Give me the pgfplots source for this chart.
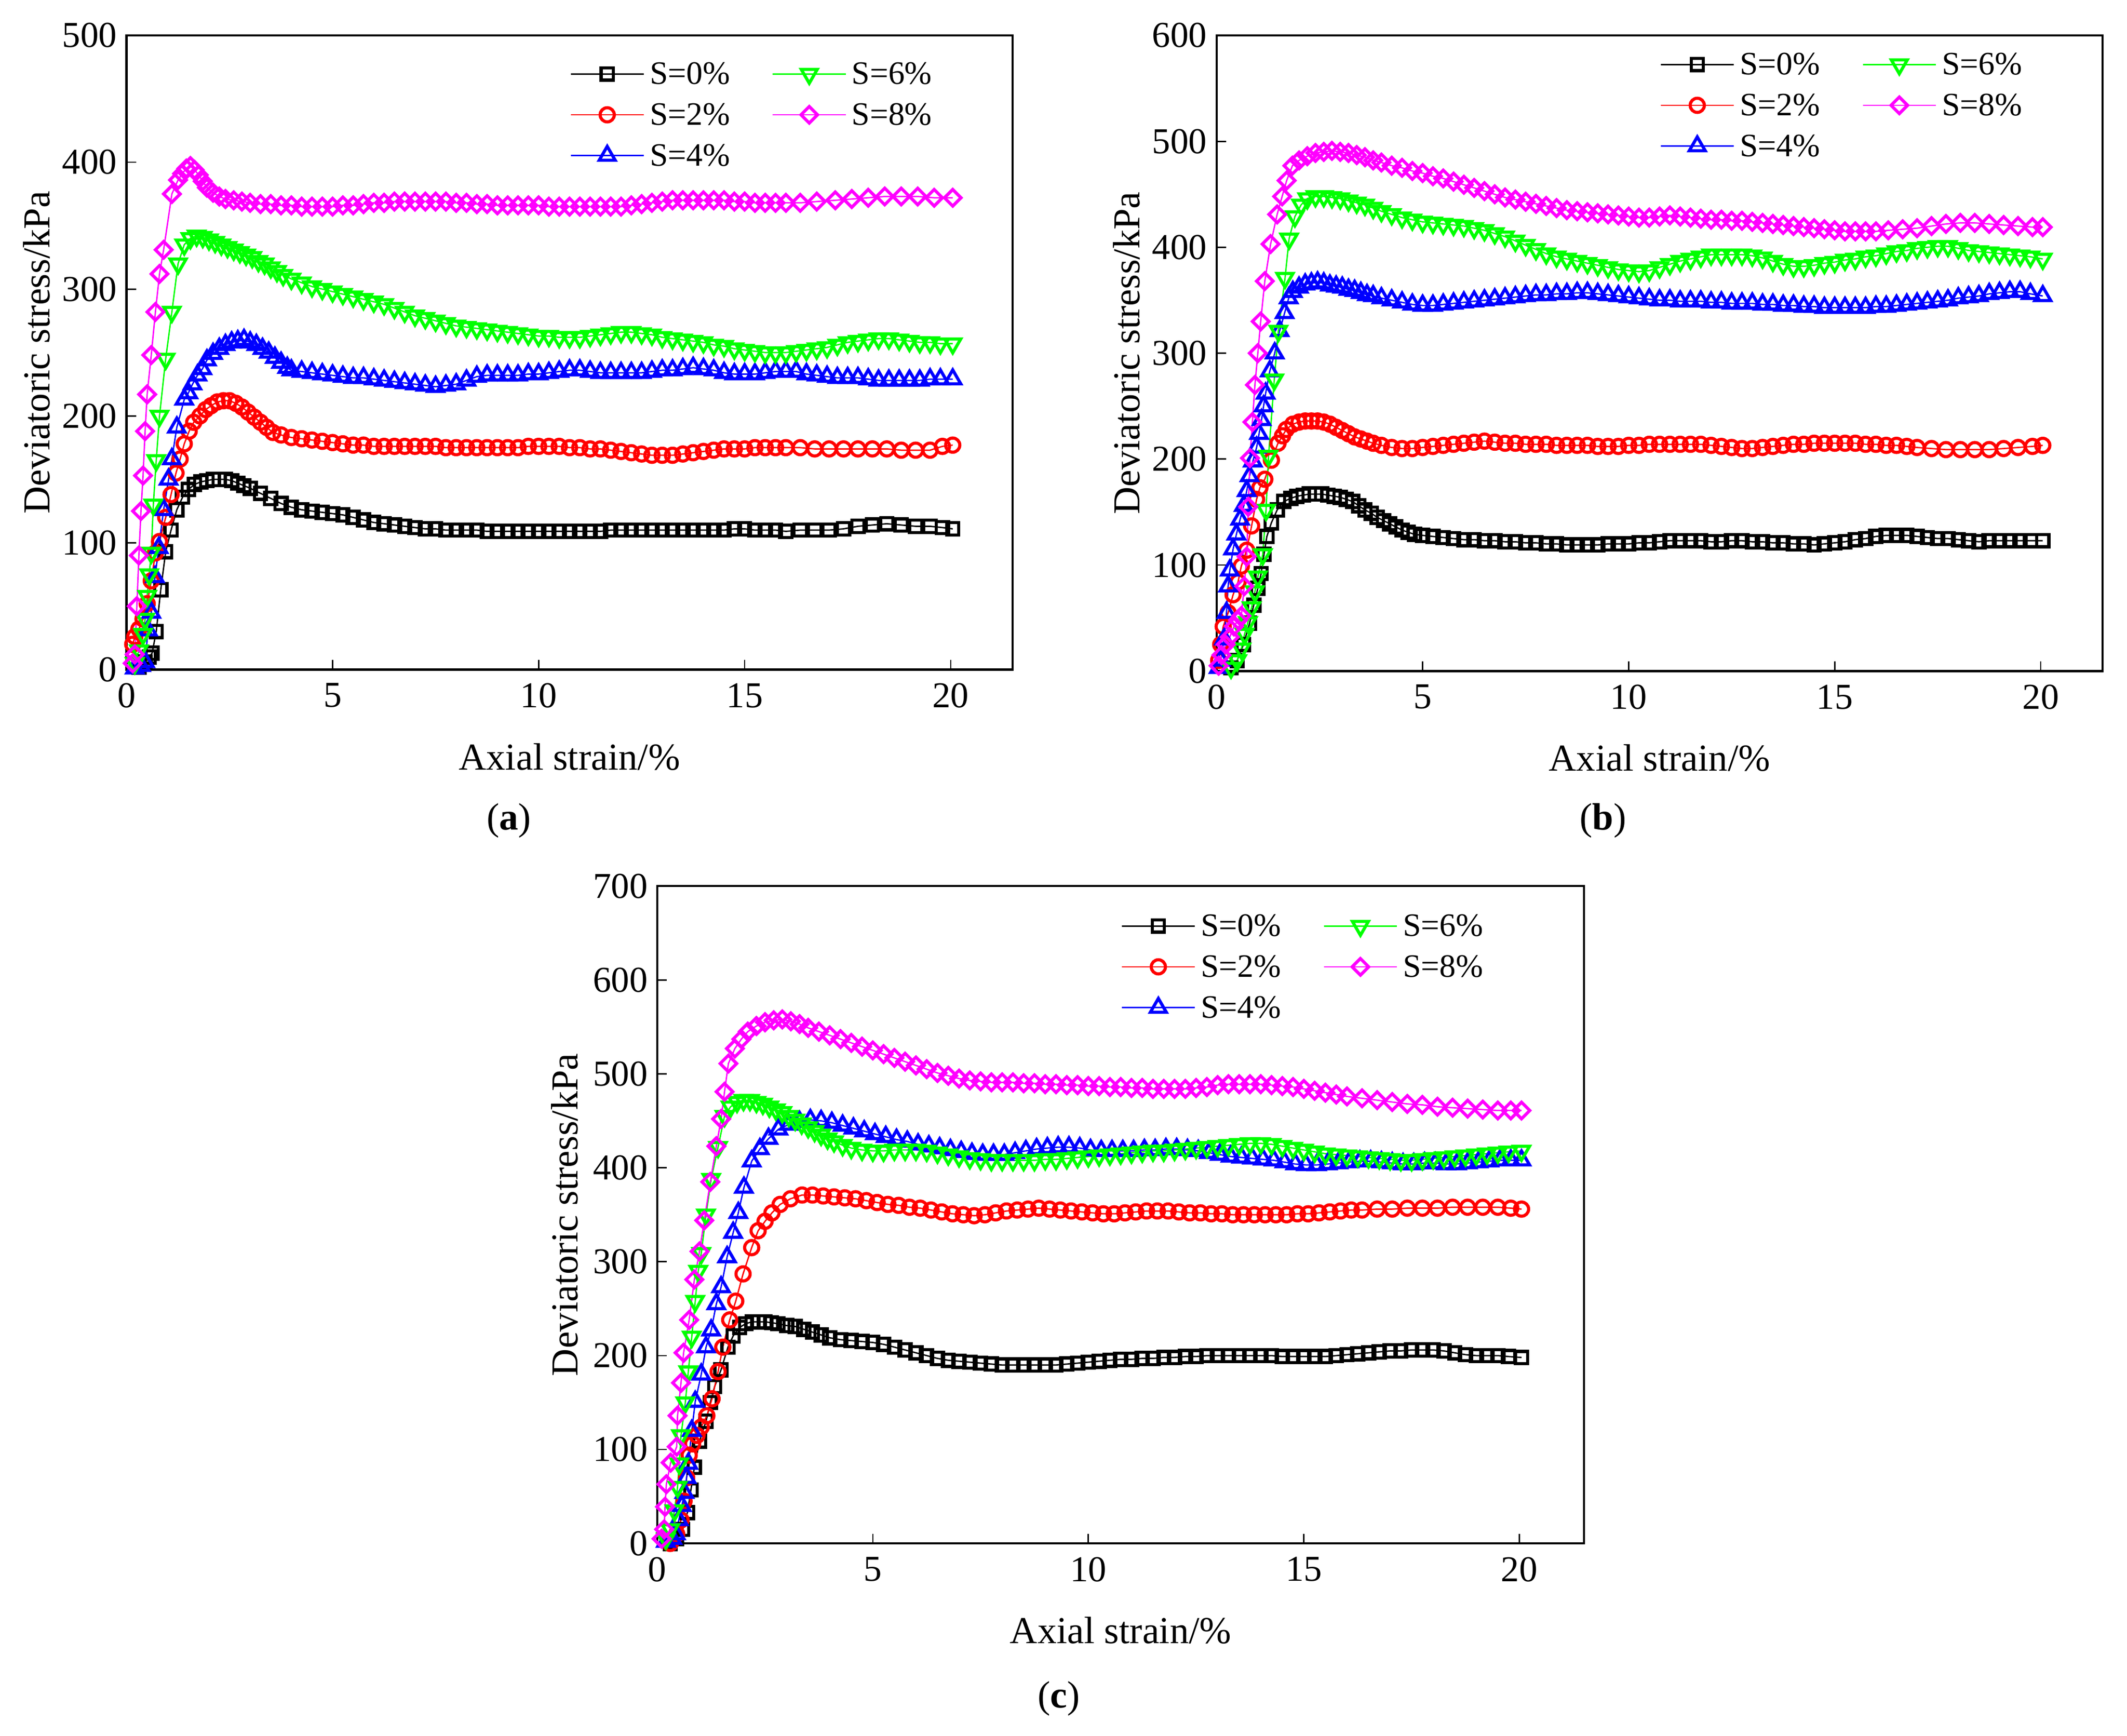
\documentclass[border=0pt]{standalone}
\usepackage{fontspec}
\setmainfont{Liberation Serif}
\usepackage{pgfplots}
\pgfplotsset{compat=1.18}
\definecolor{cgreen}{RGB}{0,255,0}
\definecolor{cmag}{RGB}{255,0,255}
\definecolor{cred}{RGB}{255,0,0}
\definecolor{cblue}{RGB}{0,0,255}
\pgfplotsset{
  s0/.style={black, line width=0.5pt, mark=square, mark size=2.25pt, mark options={line width=1.15pt, solid}},
  s2/.style={cred, line width=0.5pt, mark=o, mark size=2.6pt, mark options={line width=1.15pt, solid}},
  s4/.style={cblue, line width=0.5pt, mark=triangle, mark size=3.4pt, mark options={line width=1.15pt, solid}},
  s6/.style={cgreen, line width=0.5pt, mark=triangle, mark size=3.4pt, mark options={line width=1.15pt, solid, rotate=180}},
  s8/.style={cmag, line width=0.5pt, mark=square, mark size=2.15pt, mark options={line width=1.15pt, solid, rotate=45}},
  myaxis/.style={
    scale only axis, xmin=0, xmax=21.5, ymin=0,
    xtick={0,5,10,15,20}, ytick distance=100,
    tick align=inside, xtick pos=bottom, ytick pos=left,
    major tick length=3.5pt,
    every tick/.style={black, line width=0.5pt},
    axis line style={line width=0.8pt},
    ticklabel style={font=\fontsize{13.4}{15}\selectfont},
    xticklabel style={yshift=-1.5pt},
    /pgf/number format/assume math mode=true,
    label style={font=\fontsize{14}{16}\selectfont},
    xlabel={Axial strain/\%},
    ylabel={Deviatoric stress/kPa},
    xlabel style={at={(axis description cs:0.5,0)}, anchor=center, yshift=-32pt},
    legend columns=2,
    legend cell align=left,
    legend style={anchor=north west, draw=none, fill=none, inner sep=0pt,
      font=\fontsize{12}{14}\selectfont,
      nodes={inner sep=2pt, text height=8.5pt, text depth=1pt},
      row sep=1.5pt},
    /tikz/every even column/.append style={column sep=13.5pt},
    legend image code/.code={\draw[mark repeat=2,mark phase=2] plot coordinates {(0pt,0pt) (13.4pt,0pt) (26.8pt,0pt)};},
  }
}
\begin{document}
\begin{tikzpicture}
\path[use as bounding box] (0,0) rectangle (781.5pt,-637.7pt);
% ---------------- (a) ----------------
\begin{axis}[myaxis, at={(46.5pt,-13pt)}, anchor=north west, width=325.5pt, height=233pt, ymax=500,
  ylabel style={at={(axis description cs:-0.1014,0.5)}, anchor=center},
  legend style={at={(axis description cs:0.5,0.969)}}]
\addplot[s0, forget plot] coordinates {(0.3,2) (0.45,6) (0.55,10) (0.62,13) (0.72,30) (0.83,63) (0.95,93) (1.08,110) (1.22,126) (1.36,136) (1.5,142) (1.65,146) (1.8,148) (1.95,149) (2.1,150) (2.25,150) (2.4,150) (2.55,149) (2.7,147) (2.85,145) (3.0,143) (3.25,139) (3.5,135) (3.75,131) (4.0,128) (4.25,126) (4.5,125) (4.75,124) (5.0,123) (5.25,122) (5.5,120) (5.75,118) (6.0,116) (6.25,115) (6.5,114) (6.75,113) (7.0,112) (7.25,111) (7.5,111) (7.75,110) (8.0,110) (8.25,110) (8.5,110) (8.75,109) (9.0,109) (9.25,109) (9.5,109) (9.75,109) (10.0,109) (10.25,109) (10.5,109) (10.75,109) (11.0,109) (11.25,109) (11.5,109) (11.75,110) (12.0,110) (12.25,110) (12.5,110) (12.75,110) (13.0,110) (13.25,110) (13.5,110) (13.75,110) (14.0,110) (14.25,110) (14.5,110) (14.75,111) (15.0,111) (15.25,110) (15.5,110) (15.75,110) (16.0,109) (16.35,110) (16.7,110) (17.05,110) (17.4,111) (17.75,113) (18.1,114) (18.45,115) (18.8,114) (19.15,113) (19.5,113) (19.8,112) (20.05,111)};
\addplot[s2, forget plot] coordinates {(0.15,20) (0.2,26) (0.3,32) (0.4,40) (0.5,52) (0.6,70) (0.7,92) (0.8,101) (0.95,120) (1.08,138) (1.2,155) (1.3,166) (1.4,178) (1.52,188) (1.63,195) (1.78,200) (1.92,205) (2.05,208) (2.2,211) (2.35,212) (2.5,212) (2.65,210) (2.8,207) (2.95,203) (3.1,199) (3.25,195) (3.4,191) (3.55,187) (3.75,185) (4.0,183) (4.25,182) (4.5,181) (4.75,180) (5.0,179) (5.25,178) (5.5,177) (5.75,177) (6.0,176) (6.25,176) (6.5,176) (6.75,176) (7.0,176) (7.25,176) (7.5,176) (7.75,175) (8.0,175) (8.25,175) (8.5,175) (8.75,175) (9.0,175) (9.25,175) (9.5,175) (9.75,176) (10.0,176) (10.25,176) (10.5,176) (10.75,175) (11.0,175) (11.25,174) (11.5,174) (11.75,173) (12.0,172) (12.25,171) (12.5,170) (12.75,169) (13.0,169) (13.25,169) (13.5,170) (13.75,171) (14.0,172) (14.25,173) (14.5,174) (14.75,174) (15.0,174) (15.25,175) (15.5,175) (15.75,175) (16.0,175) (16.35,175) (16.7,174) (17.05,174) (17.4,174) (17.75,174) (18.1,174) (18.45,174) (18.8,173) (19.15,173) (19.5,173) (19.8,176) (20.05,177)};
\addplot[s4, forget plot] coordinates {(0.2,1) (0.35,3) (0.45,6) (0.52,31) (0.6,45) (0.69,73) (0.78,96) (0.9,126) (1.02,150) (1.1,166) (1.22,191) (1.4,213) (1.5,218) (1.6,225) (1.72,232) (1.84,237) (1.95,244) (2.1,249) (2.25,253) (2.4,256) (2.55,258) (2.7,259) (2.85,260) (3.0,258) (3.15,256) (3.3,253) (3.45,250) (3.6,246) (3.75,242) (3.9,238) (4.0,236) (4.25,235) (4.5,234) (4.75,233) (5.0,232) (5.25,231) (5.5,230) (5.75,230) (6.0,229) (6.25,228) (6.5,227) (6.75,226) (7.0,225) (7.25,224) (7.5,223) (7.75,224) (8.0,225) (8.25,228) (8.5,231) (8.75,232) (9.0,232) (9.25,232) (9.5,232) (9.75,233) (10.0,233) (10.25,234) (10.5,235) (10.75,236) (11.0,236) (11.25,235) (11.5,234) (11.75,234) (12.0,234) (12.25,234) (12.5,234) (12.75,235) (13.0,236) (13.25,236) (13.5,237) (13.75,238) (14.0,237) (14.25,236) (14.5,234) (14.75,233) (15.0,233) (15.25,233) (15.5,234) (15.75,235) (16.0,235) (16.25,235) (16.5,233) (16.75,232) (17.0,231) (17.25,230) (17.5,230) (17.75,230) (18.0,229) (18.25,228) (18.5,228) (18.75,228) (19.0,228) (19.25,228) (19.5,229) (19.75,229) (20.05,229)};
\addplot[s6, forget plot] coordinates {(0.2,5) (0.3,15) (0.4,28) (0.45,40) (0.5,58) (0.55,75) (0.6,92) (0.65,130) (0.72,165) (0.8,200) (0.95,245) (1.1,282) (1.25,320) (1.4,335) (1.55,340) (1.7,342) (1.85,341) (2.0,339) (2.15,337) (2.3,335) (2.45,333) (2.6,331) (2.75,329) (2.9,327) (3.05,325) (3.2,322) (3.35,320) (3.5,317) (3.65,314) (3.8,311) (4.0,308) (4.25,305) (4.5,302) (4.75,300) (5.0,298) (5.25,296) (5.5,294) (5.75,292) (6.0,290) (6.25,288) (6.5,285) (6.75,282) (7.0,279) (7.25,277) (7.5,275) (7.75,273) (8.0,271) (8.25,270) (8.5,269) (8.75,268) (9.0,267) (9.25,266) (9.5,265) (9.75,264) (10.0,263) (10.25,263) (10.5,262) (10.75,262) (11.0,262) (11.25,263) (11.5,264) (11.75,265) (12.0,266) (12.25,266) (12.5,265) (12.75,264) (13.0,262) (13.25,261) (13.5,260) (13.75,259) (14.0,258) (14.25,256) (14.5,255) (14.75,253) (15.0,252) (15.25,251) (15.5,250) (15.75,250) (16.0,250) (16.25,251) (16.5,252) (16.75,253) (17.0,254) (17.25,256) (17.5,258) (17.75,259) (18.0,260) (18.25,261) (18.5,261) (18.75,260) (19.0,259) (19.25,258) (19.5,258) (19.75,257) (20.05,257)};
\addplot[s8, forget plot] coordinates {(0.15,5) (0.2,12) (0.25,50) (0.3,90) (0.35,125) (0.4,153) (0.45,188) (0.5,217) (0.6,248) (0.7,282) (0.8,312) (0.9,331) (1.1,375) (1.25,386) (1.35,391) (1.45,395) (1.55,397) (1.65,394) (1.75,390) (1.85,385) (1.95,380) (2.1,376) (2.25,373) (2.4,371) (2.6,370) (2.8,369) (3.0,368) (3.25,367) (3.5,367) (3.75,366) (4.0,366) (4.25,365) (4.5,365) (4.75,365) (5.0,365) (5.25,366) (5.5,366) (5.75,367) (6.0,368) (6.25,368) (6.5,369) (6.75,369) (7.0,369) (7.25,369) (7.5,369) (7.75,369) (8.0,368) (8.25,368) (8.5,367) (8.75,367) (9.0,366) (9.25,366) (9.5,366) (9.75,366) (10.0,366) (10.25,365) (10.5,365) (10.75,365) (11.0,365) (11.25,365) (11.5,365) (11.75,365) (12.0,365) (12.25,366) (12.5,367) (12.75,368) (13.0,369) (13.25,370) (13.5,370) (13.75,370) (14.0,370) (14.25,370) (14.5,370) (14.75,369) (15.0,369) (15.25,368) (15.5,368) (15.75,368) (16.0,368) (16.35,368) (16.75,369) (17.2,370) (17.6,371) (18.0,372) (18.4,373) (18.8,373) (19.2,373) (19.6,372) (20.05,372)};
\addlegendimage{s0}
\addlegendimage{s6}
\addlegendimage{s2}
\addlegendimage{s8}
\addlegendimage{s4}
\legend{S=0\%, S=6\%, S=2\%, S=8\%, S=4\%}
\end{axis}
% ---------------- (b) ----------------
\begin{axis}[myaxis, at={(447pt,-13pt)}, anchor=north west, width=325.5pt, height=233.5pt, ymax=600,
  ylabel style={at={(axis description cs:-0.1014,0.5)}, anchor=center},
  legend style={at={(axis description cs:0.5,0.984)}}]
\addplot[s0, forget plot] coordinates {(0.35,3) (0.5,10) (0.65,25) (0.8,45) (0.9,62) (1.0,78) (1.08,92) (1.15,110) (1.22,127) (1.33,140) (1.47,152) (1.63,160) (1.8,163) (1.95,165) (2.1,166) (2.25,167) (2.4,167) (2.55,167) (2.7,166) (2.85,165) (3.0,164) (3.15,162) (3.3,160) (3.45,156) (3.6,152) (3.75,149) (3.9,145) (4.05,142) (4.2,139) (4.35,136) (4.5,133) (4.65,131) (4.8,129) (5.0,128) (5.25,127) (5.5,126) (5.75,125) (6.0,124) (6.25,124) (6.5,123) (6.75,123) (7.0,122) (7.25,122) (7.5,121) (7.75,121) (8.0,120) (8.25,120) (8.5,119) (8.75,119) (9.0,119) (9.25,119) (9.5,120) (9.75,120) (10.0,120) (10.25,121) (10.5,121) (10.75,122) (11.0,123) (11.25,123) (11.5,123) (11.75,123) (12.0,122) (12.25,122) (12.5,123) (12.75,123) (13.0,122) (13.25,122) (13.5,121) (13.75,121) (14.0,120) (14.25,120) (14.5,119) (14.75,120) (15.0,121) (15.25,122) (15.5,124) (15.75,125) (16.0,127) (16.25,128) (16.5,128) (16.75,128) (17.0,127) (17.25,126) (17.5,125) (17.75,125) (18.0,124) (18.25,123) (18.5,122) (18.75,123) (19.0,123) (19.25,123) (19.5,123) (19.75,123) (20.05,123)};
\addplot[s2, forget plot] coordinates {(0.05,10) (0.1,25) (0.16,42) (0.28,55) (0.4,72) (0.52,84) (0.6,99) (0.73,114) (0.85,137) (0.97,162) (1.05,173) (1.17,181) (1.33,199) (1.49,215) (1.6,222) (1.69,228) (1.85,233) (2.0,235) (2.15,236) (2.3,236) (2.45,236) (2.6,235) (2.75,233) (2.9,230) (3.05,227) (3.2,224) (3.35,221) (3.5,219) (3.65,217) (3.8,215) (4.0,213) (4.25,211) (4.5,210) (4.75,210) (5.0,211) (5.25,212) (5.5,213) (5.75,214) (6.0,215) (6.25,216) (6.5,217) (6.75,216) (7.0,215) (7.25,215) (7.5,214) (7.75,214) (8.0,214) (8.25,213) (8.5,213) (8.75,213) (9.0,213) (9.25,212) (9.5,212) (9.75,212) (10.0,213) (10.25,213) (10.5,214) (10.75,214) (11.0,214) (11.25,214) (11.5,214) (11.75,214) (12.0,213) (12.25,212) (12.5,211) (12.75,210) (13.0,210) (13.25,211) (13.5,212) (13.75,213) (14.0,214) (14.25,214) (14.5,215) (14.75,215) (15.0,215) (15.25,215) (15.5,215) (15.75,214) (16.0,214) (16.25,213) (16.5,213) (16.75,212) (17.0,211) (17.35,210) (17.7,209) (18.05,209) (18.4,209) (18.75,209) (19.1,210) (19.45,211) (19.8,212) (20.05,213)};
\addplot[s4, forget plot] coordinates {(0.05,3) (0.1,10) (0.18,30) (0.24,55) (0.28,80) (0.32,95) (0.4,115) (0.48,129) (0.57,143) (0.66,156) (0.73,170) (0.8,184) (0.88,198) (0.97,211) (1.03,224) (1.09,237) (1.14,250) (1.19,262) (1.29,283) (1.41,300) (1.53,321) (1.65,338) (1.75,352) (1.85,358) (2.0,362) (2.15,365) (2.3,366) (2.45,367) (2.6,366) (2.75,364) (2.9,363) (3.05,362) (3.2,360) (3.35,359) (3.5,357) (3.65,355) (3.8,354) (4.0,352) (4.25,350) (4.5,348) (4.75,346) (5.0,345) (5.25,345) (5.5,346) (5.75,347) (6.0,348) (6.25,349) (6.5,350) (6.75,351) (7.0,352) (7.25,353) (7.5,354) (7.75,355) (8.0,355) (8.25,356) (8.5,356) (8.75,357) (9.0,357) (9.25,356) (9.5,355) (9.75,354) (10.0,353) (10.25,352) (10.5,351) (10.75,350) (11.0,350) (11.25,349) (11.5,349) (11.75,349) (12.0,348) (12.25,348) (12.5,347) (12.75,347) (13.0,347) (13.25,346) (13.5,346) (13.75,345) (14.0,345) (14.25,344) (14.5,344) (14.75,343) (15.0,343) (15.25,343) (15.5,343) (15.75,343) (16.0,344) (16.25,344) (16.5,345) (16.75,346) (17.0,347) (17.25,348) (17.5,349) (17.75,350) (18.0,352) (18.25,353) (18.5,354) (18.75,356) (19.0,357) (19.25,358) (19.5,358) (19.75,356) (20.05,354)};
\addplot[s6, forget plot] coordinates {(0.35,3) (0.5,10) (0.6,21) (0.68,35) (0.76,46) (0.85,60) (0.93,75) (1.0,89) (1.12,110) (1.2,152) (1.26,203) (1.4,275) (1.5,321) (1.66,371) (1.76,408) (1.9,429) (2.05,440) (2.2,446) (2.4,448) (2.6,448) (2.8,447) (3.0,446) (3.2,444) (3.4,442) (3.6,440) (3.8,437) (4.0,434) (4.25,431) (4.5,428) (4.75,426) (5.0,424) (5.25,423) (5.5,422) (5.75,421) (6.0,420) (6.25,418) (6.5,416) (6.75,413) (7.0,410) (7.25,406) (7.5,402) (7.75,398) (8.0,394) (8.25,391) (8.5,389) (8.75,387) (9.0,385) (9.25,383) (9.5,381) (9.75,379) (10.0,378) (10.25,377) (10.5,378) (10.75,381) (11.0,384) (11.25,387) (11.5,389) (11.75,391) (12.0,393) (12.25,393) (12.5,393) (12.75,393) (13.0,392) (13.25,390) (13.5,387) (13.75,384) (14.0,382) (14.25,382) (14.5,383) (14.75,385) (15.0,386) (15.25,388) (15.5,389) (15.75,391) (16.0,392) (16.25,394) (16.5,396) (16.75,397) (17.0,399) (17.25,400) (17.5,401) (17.75,401) (18.0,399) (18.25,397) (18.5,396) (18.75,395) (19.0,394) (19.25,393) (19.5,392) (19.75,391) (20.05,389)};
\addplot[s8, forget plot] coordinates {(0.05,5) (0.12,15) (0.22,25) (0.32,32) (0.42,42) (0.52,48) (0.6,52) (0.67,80) (0.73,108) (0.77,155) (0.81,201) (0.87,235) (0.93,270) (1.0,300) (1.07,330) (1.17,368) (1.31,403) (1.47,431) (1.59,448) (1.7,463) (1.84,477) (2.0,482) (2.2,486) (2.4,489) (2.6,490) (2.8,491) (3.0,490) (3.2,489) (3.4,487) (3.6,485) (3.8,482) (4.0,480) (4.25,477) (4.5,475) (4.75,472) (5.0,470) (5.25,467) (5.5,465) (5.75,462) (6.0,459) (6.25,456) (6.5,453) (6.75,450) (7.0,447) (7.25,445) (7.5,443) (7.75,441) (8.0,439) (8.25,437) (8.5,435) (8.75,434) (9.0,433) (9.25,432) (9.5,431) (9.75,430) (10.0,429) (10.25,428) (10.5,428) (10.75,429) (11.0,430) (11.25,429) (11.5,428) (11.75,427) (12.0,426) (12.25,426) (12.5,425) (12.75,425) (13.0,424) (13.25,423) (13.5,422) (13.75,421) (14.0,420) (14.25,419) (14.5,418) (14.75,417) (15.0,416) (15.25,415) (15.5,415) (15.75,415) (16.0,415) (16.3,416) (16.65,417) (17.0,418) (17.35,420) (17.7,422) (18.05,423) (18.4,423) (18.75,422) (19.1,421) (19.45,420) (19.8,419) (20.05,419)};
\addlegendimage{s0}
\addlegendimage{s6}
\addlegendimage{s2}
\addlegendimage{s8}
\addlegendimage{s4}
\legend{S=0\%, S=6\%, S=2\%, S=8\%, S=4\%}
\end{axis}
% ---------------- (c) ----------------
\begin{axis}[myaxis, at={(241.5pt,-325.5pt)}, anchor=north west, width=340.5pt, height=241.5pt, ymax=700,
  ylabel style={at={(axis description cs:-0.1,0.5)}, anchor=center},
  legend style={at={(axis description cs:0.5,0.968)}}]
\addplot[s0, forget plot] coordinates {(0.3,0) (0.45,5) (0.59,15) (0.7,33) (0.78,57) (0.86,81) (0.98,109) (1.13,130) (1.23,150) (1.33,167) (1.48,185) (1.64,209) (1.76,221) (1.91,230) (2.05,234) (2.2,236) (2.35,236) (2.5,236) (2.65,235) (2.8,234) (3.0,232) (3.2,231) (3.4,228) (3.6,225) (3.8,222) (4.0,219) (4.25,217) (4.5,216) (4.75,215) (5.0,214) (5.25,212) (5.5,209) (5.75,206) (6.0,203) (6.25,200) (6.5,197) (6.75,195) (7.0,194) (7.25,193) (7.5,192) (7.75,191) (8.0,190) (8.25,190) (8.5,190) (8.75,190) (9.0,190) (9.25,190) (9.5,191) (9.75,192) (10.0,193) (10.25,194) (10.5,195) (10.75,196) (11.0,196) (11.25,197) (11.5,197) (11.75,198) (12.0,198) (12.25,199) (12.5,199) (12.75,200) (13.0,200) (13.25,200) (13.5,200) (13.75,200) (14.0,200) (14.25,200) (14.5,199) (14.75,199) (15.0,199) (15.25,199) (15.5,199) (15.75,200) (16.0,201) (16.25,202) (16.5,203) (16.75,204) (17.0,205) (17.25,205) (17.5,206) (17.75,206) (18.0,206) (18.25,205) (18.5,203) (18.75,201) (19.0,200) (19.25,200) (19.5,200) (19.75,199) (20.05,198)};
\addplot[s2, forget plot] coordinates {(0.3,0) (0.45,10) (0.55,25) (0.62,45) (0.68,70) (0.74,94) (0.82,106) (0.92,115) (1.02,124) (1.15,136) (1.27,154) (1.41,183) (1.52,209) (1.68,238) (1.82,258) (1.99,287) (2.19,315) (2.34,333) (2.5,343) (2.66,352) (2.85,361) (3.09,367) (3.36,371) (3.6,371) (3.85,370) (4.1,369) (4.35,368) (4.6,367) (4.85,365) (5.1,363) (5.35,361) (5.6,360) (5.85,358) (6.1,357) (6.35,355) (6.6,353) (6.85,351) (7.1,350) (7.35,349) (7.6,350) (7.85,352) (8.1,354) (8.35,355) (8.6,356) (8.85,357) (9.1,356) (9.35,355) (9.6,354) (9.85,353) (10.1,352) (10.35,351) (10.6,351) (10.85,352) (11.1,353) (11.35,354) (11.6,354) (11.85,354) (12.1,353) (12.35,352) (12.6,352) (12.85,351) (13.1,351) (13.35,350) (13.6,350) (13.85,350) (14.1,350) (14.35,350) (14.6,350) (14.85,351) (15.1,351) (15.35,352) (15.6,353) (15.85,354) (16.1,355) (16.35,355) (16.7,356) (17.05,356) (17.4,357) (17.75,357) (18.1,357) (18.45,358) (18.8,358) (19.15,358) (19.5,358) (19.8,357) (20.05,356)};
\addplot[s4, forget plot] coordinates {(0.2,2) (0.35,5) (0.43,10) (0.5,25) (0.57,40) (0.63,54) (0.68,70) (0.72,85) (0.8,120) (0.88,151) (1.02,180) (1.13,209) (1.25,227) (1.37,255) (1.48,273) (1.62,305) (1.76,331) (1.88,352) (2.01,379) (2.19,407) (2.38,420) (2.58,431) (2.81,441) (3.05,446) (3.3,449) (3.55,451) (3.8,450) (4.05,448) (4.3,445) (4.55,442) (4.8,439) (5.05,436) (5.3,433) (5.55,430) (5.8,428) (6.05,425) (6.3,423) (6.55,421) (6.8,419) (7.05,417) (7.3,415) (7.55,414) (7.8,414) (8.05,414) (8.3,416) (8.55,418) (8.8,420) (9.05,421) (9.3,422) (9.55,422) (9.8,421) (10.05,419) (10.3,418) (10.55,418) (10.8,418) (11.05,418) (11.3,419) (11.55,419) (11.8,420) (12.05,420) (12.3,419) (12.55,418) (12.8,416) (13.05,414) (13.3,412) (13.55,411) (13.8,410) (14.05,409) (14.3,408) (14.55,406) (14.8,404) (15.05,403) (15.3,403) (15.55,404) (15.8,405) (16.05,406) (16.3,407) (16.55,407) (16.8,406) (17.05,405) (17.3,404) (17.55,404) (17.8,405) (18.05,405) (18.3,404) (18.55,404) (18.8,405) (19.05,406) (19.3,407) (19.55,408) (19.8,408) (20.05,408)};
\addplot[s6, forget plot] coordinates {(0.2,5) (0.3,15) (0.4,35) (0.47,60) (0.51,85) (0.55,115) (0.65,150) (0.72,183) (0.8,220) (0.88,258) (0.95,290) (1.02,309) (1.13,350) (1.25,388) (1.41,422) (1.56,455) (1.7,465) (1.85,470) (2.0,472) (2.15,472) (2.3,470) (2.45,468) (2.6,465) (2.75,462) (2.9,459) (3.05,455) (3.2,451) (3.35,447) (3.5,443) (3.65,439) (3.8,435) (3.95,431) (4.1,428) (4.3,424) (4.5,421) (4.75,419) (5.0,418) (5.25,418) (5.5,419) (5.75,419) (6.0,419) (6.25,418) (6.5,416) (6.75,414) (7.0,412) (7.25,410) (7.5,409) (7.75,408) (8.0,408) (8.25,408) (8.5,408) (8.75,408) (9.0,409) (9.25,409) (9.5,410) (9.75,411) (10.0,412) (10.25,413) (10.5,414) (10.75,415) (11.0,416) (11.25,417) (11.5,418) (11.75,418) (12.0,419) (12.25,420) (12.5,421) (12.75,422) (13.0,423) (13.25,424) (13.5,425) (13.75,426) (14.0,426) (14.25,425) (14.5,423) (14.75,421) (15.0,419) (15.25,417) (15.5,415) (15.75,414) (16.0,413) (16.25,412) (16.5,411) (16.75,410) (17.0,409) (17.25,408) (17.5,408) (17.75,409) (18.0,410) (18.25,411) (18.5,412) (18.75,413) (19.0,414) (19.25,415) (19.5,416) (19.75,417) (20.05,418)};
\addplot[s8, forget plot] coordinates {(0.1,5) (0.16,15) (0.18,39) (0.21,63) (0.31,86) (0.45,103) (0.47,136) (0.55,171) (0.61,203) (0.74,238) (0.86,281) (0.98,311) (1.09,344) (1.23,385) (1.37,423) (1.48,452) (1.56,481) (1.65,511) (1.8,527) (1.95,537) (2.1,545) (2.3,551) (2.5,555) (2.7,557) (2.9,558) (3.1,556) (3.3,553) (3.5,549) (3.75,545) (4.0,541) (4.25,537) (4.5,533) (4.75,529) (5.0,525) (5.25,521) (5.5,517) (5.75,513) (6.0,509) (6.25,505) (6.5,501) (6.75,498) (7.0,495) (7.25,493) (7.5,492) (7.75,491) (8.0,491) (8.25,491) (8.5,490) (8.75,490) (9.0,489) (9.25,489) (9.5,488) (9.75,488) (10.0,487) (10.25,487) (10.5,486) (10.75,486) (11.0,485) (11.25,485) (11.5,484) (11.75,484) (12.0,484) (12.25,484) (12.5,485) (12.75,486) (13.0,488) (13.25,489) (13.5,489) (13.75,489) (14.0,489) (14.25,488) (14.5,487) (14.75,486) (15.0,484) (15.25,482) (15.5,480) (15.75,478) (16.0,476) (16.35,474) (16.7,472) (17.05,470) (17.4,468) (17.75,467) (18.1,465) (18.45,464) (18.8,463) (19.15,462) (19.5,461) (19.8,461) (20.05,461)};
\addlegendimage{s0}
\addlegendimage{s6}
\addlegendimage{s2}
\addlegendimage{s8}
\addlegendimage{s4}
\legend{S=0\%, S=6\%, S=2\%, S=8\%, S=4\%}
\end{axis}
\node[font=\fontsize{14}{16}\selectfont] at (187pt,-301.5pt) {(\textbf{a})};
\node[font=\fontsize{14}{16}\selectfont] at (589pt,-301.5pt) {(\textbf{b})};
\node[font=\fontsize{14}{16}\selectfont] at (389pt,-624pt) {(\textbf{c})};
\end{tikzpicture}
\end{document}
